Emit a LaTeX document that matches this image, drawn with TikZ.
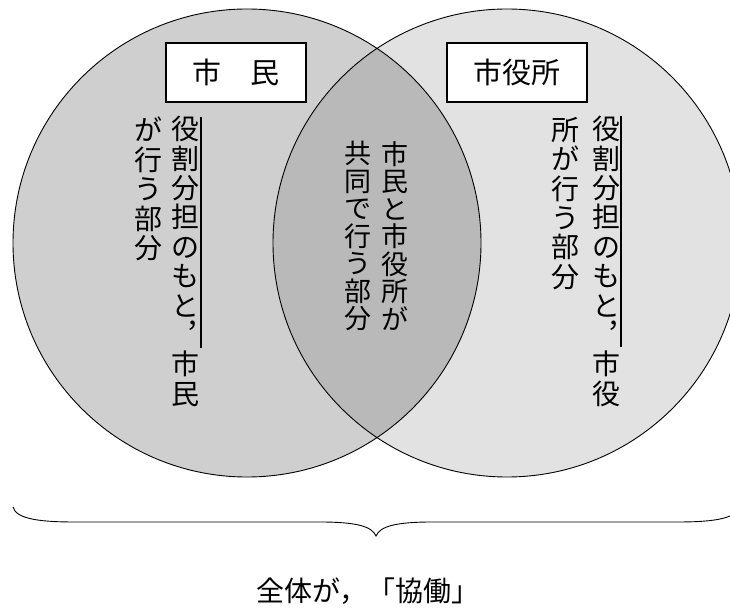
\documentclass[tikz,border=0pt]{standalone}
\usepackage{fontspec}
\setmainfont{Noto Sans CJK JP}
\definecolor{hidari}{gray}{0.81}
\definecolor{migi}{gray}{0.885}
\definecolor{naka}{gray}{0.725}
\begin{document}
\begin{tikzpicture}[x=1pt,y=-1pt,
  waku/.style={draw,fill=white,line width=1.2pt,minimum width=140pt,minimum height=59pt,inner sep=0pt,font=\fontsize{29}{30}\selectfont},
  tate/.style={anchor=north,align=center,inner sep=0pt,font=\fontsize{28}{29.4}\selectfont},
  tatec/.style={tate,font=\fontsize{27}{27.5}\selectfont}]
\useasboundingbox(0,0)rectangle(730,609);
\clip(0,0)rectangle(730,609);
\coordinate(cl)at(247,243);
\coordinate(cr)at(507,243);
\fill[hidari](cl)circle[radius=234pt];
\fill[migi](cr)circle[radius=234pt];
\begin{scope}
\clip(cl)circle[radius=234pt];
\fill[naka](cr)circle[radius=234pt];
\end{scope}
\draw[line width=0.9pt](cl)circle[radius=234pt](cr)circle[radius=234pt];
\node[waku](shimin)at(236,72.5){市　民};
\node[waku](shiyakusho)at(517,72.5){市役所};
\node[tate](shimin1)at(185,116){役\\割\\分\\担\\の\\も\\と\\︐\\市\\民};
\node[tate](shimin2)at(148,117){が\\行\\う\\部\\分};
\node[tatec](kyodo1)at(395,141){市\\民\\と\\市\\役\\所\\が};
\node[tatec](kyodo2)at(358,141){共\\同\\で\\行\\う\\部\\分};
\node[tate](yakusho1)at(606,116){役\\割\\分\\担\\の\\も\\と\\︐\\市\\役};
\node[tate](yakusho2)at(565,117){所\\が\\行\\う\\部\\分};
\draw[line width=1.5pt](201,117)--(201,348);
\draw[line width=1.5pt](621,116)--(621,347);
\draw[line width=0.9pt](13,507)..controls(16,520)and(45,522)..(75,522)--(320,522)
  ..controls(355,522)and(372,526)..(376,536)..controls(380,526)and(397,522)..(432,522)
  --(677,522)..controls(707,522)and(736,520)..(739,507);
\node[font=\fontsize{28}{30}\selectfont](zentai)at(368,591){全体が，「協働」};
\end{tikzpicture}
\end{document}
